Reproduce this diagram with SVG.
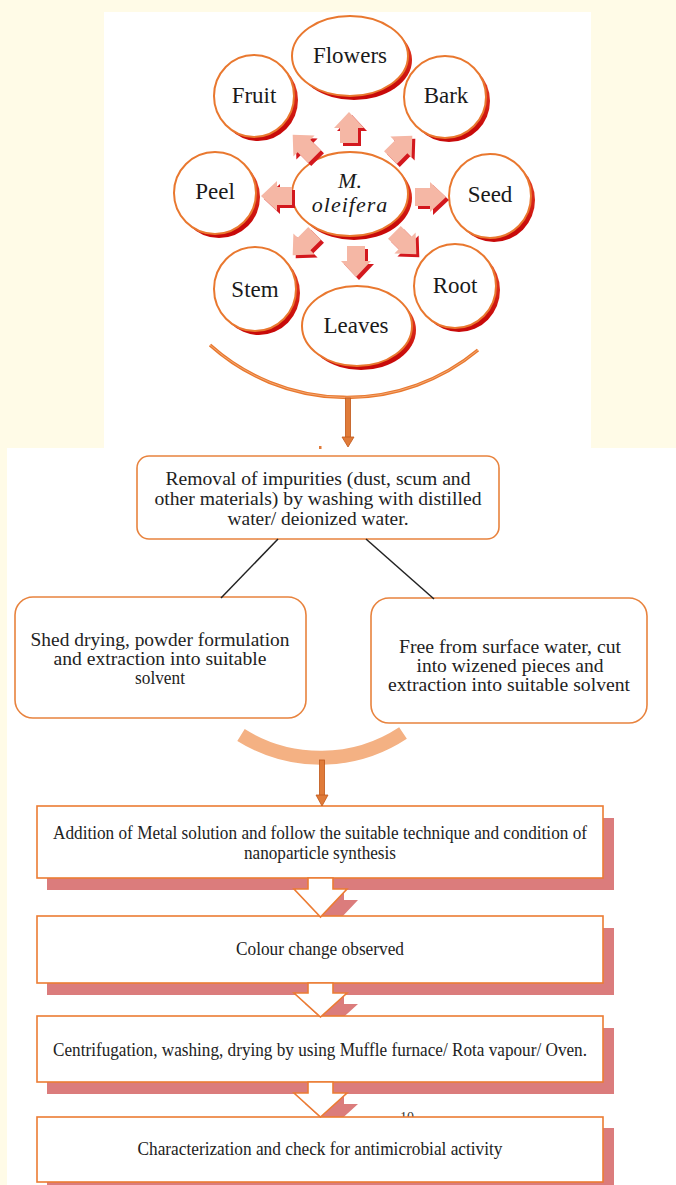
<svg xmlns="http://www.w3.org/2000/svg" xmlns:xlink="http://www.w3.org/1999/xlink" width="676" height="1185" viewBox="0 0 676 1185">
<defs>
<style>
.lbl{font-family:"Liberation Serif","Times New Roman",serif;font-size:23px;fill:#1a1a1a;text-anchor:middle}
.it{font-style:italic;font-size:22px}
.bt{font-family:"Liberation Serif","Times New Roman",serif;font-size:18.5px;fill:#222;text-anchor:middle}
.bt2{font-family:"Liberation Serif","Times New Roman",serif;font-size:18px;fill:#222;text-anchor:middle}
.circ{fill:#fff;stroke:#E9782F;stroke-width:2}
.csh{fill:url(#rg)}
.rbox{fill:#fff;stroke:#E8833E;stroke-width:1.6}
.sbox{fill:#fff;stroke:#EC7C33;stroke-width:1.6}
.bsh{fill:#DB7C7C}
.pa{fill:#F5B7A5}
.pas{fill:#D3181E}
.blk{stroke:#222;stroke-width:1.5;fill:none}
.flow{fill:#fff;stroke:#EC7C33;stroke-width:1.6;stroke-linejoin:miter}
</style>
<linearGradient id="rg" x1="0" y1="0" x2="0.3" y2="1">
<stop offset="0" stop-color="#F39A55"/>
<stop offset="0.55" stop-color="#E23A22"/>
<stop offset="1" stop-color="#C80A0A"/>
</linearGradient>
<polygon id="pa" points="0,-16 15,0 9,0 9,15 -9,15 -9,0 -15,0"/>
</defs>

<!-- background -->
<rect x="0" y="0" width="676" height="1185" fill="#FFFBE7"/>
<rect x="104" y="12" width="487" height="436" fill="#fff"/>
<rect x="7" y="448" width="669" height="737" fill="#fff"/>

<!-- shadows of block arrows (under boxes) -->
<g id="flow-arrow-shadows" class="bsh">
<polygon points="319,889 344,889 344,900 358,900 331.5,928 305,900 319,900"/>
<polygon points="319,994 344,994 344,1004 358,1004 331.5,1028 305,1004 319,1004"/>
<polygon points="319,1093 344,1093 344,1104 358,1104 331.5,1128 305,1104 319,1104"/>
</g>

<text x="407" y="1122" style="font-family:'Liberation Serif',serif;font-size:14px;fill:#333;text-anchor:middle">10</text>

<!-- circle nodes -->
<g id="n-flowers"><ellipse class="csh" cx="354" cy="60" rx="58" ry="40"/><ellipse class="circ" cx="350" cy="56" rx="58" ry="40"/><text class="lbl" x="350" y="63">Flowers</text></g>
<g id="n-fruit"><ellipse class="csh" cx="258" cy="100" rx="40" ry="41"/><ellipse class="circ" cx="254" cy="96" rx="40" ry="41"/><text class="lbl" x="254" y="103">Fruit</text></g>
<g id="n-bark"><ellipse class="csh" cx="449" cy="101" rx="41" ry="41"/><ellipse class="circ" cx="445" cy="97" rx="41" ry="41"/><text class="lbl" x="446" y="103">Bark</text></g>
<g id="n-peel"><ellipse class="csh" cx="219" cy="197" rx="41" ry="41"/><ellipse class="circ" cx="215" cy="193" rx="41" ry="41"/><text class="lbl" x="215" y="199">Peel</text></g>
<g id="n-seed"><ellipse class="csh" cx="494" cy="200" rx="41" ry="42"/><ellipse class="circ" cx="490" cy="196" rx="41" ry="42"/><text class="lbl" x="490" y="202">Seed</text></g>
<g id="n-center"><ellipse class="csh" cx="354" cy="198" rx="58" ry="42"/><ellipse class="circ" cx="350" cy="194" rx="58" ry="42"/><text class="lbl it" x="350" y="188">M.</text><text class="lbl it" x="350" y="212" letter-spacing="1">oleifera</text></g>
<g id="n-stem"><ellipse class="csh" cx="259" cy="293" rx="41" ry="42"/><ellipse class="circ" cx="255" cy="289" rx="41" ry="42"/><text class="lbl" x="255" y="297">Stem</text></g>
<g id="n-root"><ellipse class="csh" cx="459" cy="290" rx="41" ry="42"/><ellipse class="circ" cx="455" cy="286" rx="41" ry="42"/><text class="lbl" x="455" y="293">Root</text></g>
<g id="n-leaves"><ellipse class="csh" cx="361" cy="330" rx="55" ry="40"/><ellipse class="circ" cx="357" cy="326" rx="55" ry="40"/><text class="lbl" x="356" y="333">Leaves</text></g>

<!-- process nodes -->
<g id="n-removal">
<rect class="rbox" x="137" y="456" width="362" height="83" rx="12"/>
<text class="bt" x="318" y="485" textLength="305" lengthAdjust="spacingAndGlyphs">Removal of impurities (dust, scum and</text>
<text class="bt" x="318" y="505" textLength="327" lengthAdjust="spacingAndGlyphs">other materials) by washing with distilled</text>
<text class="bt" x="318" y="525" textLength="181" lengthAdjust="spacingAndGlyphs">water/ deionized water.</text>
</g>
<g id="n-shed">
<rect class="rbox" x="15" y="597" width="291" height="121" rx="18"/>
<text class="bt" x="160" y="646" textLength="259" lengthAdjust="spacingAndGlyphs">Shed drying, powder formulation</text>
<text class="bt" x="160" y="665" textLength="213" lengthAdjust="spacingAndGlyphs">and extraction into suitable</text>
<text class="bt" x="160" y="684" textLength="50" lengthAdjust="spacingAndGlyphs">solvent</text>
</g>
<g id="n-free">
<rect class="rbox" x="371" y="598" width="276" height="125" rx="18"/>
<text class="bt" x="510" y="653" textLength="222" lengthAdjust="spacingAndGlyphs">Free from surface water, cut</text>
<text class="bt" x="510" y="672" textLength="187" lengthAdjust="spacingAndGlyphs">into wizened pieces and</text>
<text class="bt" x="509" y="691" textLength="242" lengthAdjust="spacingAndGlyphs">extraction into suitable solvent</text>
</g>
<g id="n-addition">
<rect class="bsh" x="47" y="818" width="567" height="72"/>
<rect class="sbox" x="37" y="806" width="566" height="72"/>
<text class="bt2" x="320" y="839" textLength="534" lengthAdjust="spacingAndGlyphs">Addition of Metal solution and follow the suitable technique and condition of</text>
<text class="bt2" x="320" y="859" textLength="152" lengthAdjust="spacingAndGlyphs">nanoparticle synthesis</text>
</g>
<g id="n-colour">
<rect class="bsh" x="47" y="928" width="567" height="67"/>
<rect class="sbox" x="37" y="916" width="566" height="67"/>
<text class="bt2" x="320" y="955" textLength="168" lengthAdjust="spacingAndGlyphs">Colour change observed</text>
</g>
<g id="n-centrifugation">
<rect class="bsh" x="47" y="1028" width="567" height="66"/>
<rect class="sbox" x="37" y="1016" width="566" height="66"/>
<text class="bt2" x="320" y="1056" textLength="534" lengthAdjust="spacingAndGlyphs">Centrifugation, washing, drying by using Muffle furnace/ Rota vapour/ Oven.</text>
</g>
<g id="n-characterization">
<rect class="bsh" x="47" y="1128" width="567" height="65"/>
<rect class="sbox" x="37" y="1117" width="566" height="65"/>
<text class="bt2" x="320" y="1155" textLength="365" lengthAdjust="spacingAndGlyphs">Characterization and check for antimicrobial activity</text>
</g>

<!-- connectors -->
<g id="connectors">
<!-- pink block arrows from centre -->
<g class="pas">
<use xlink:href="#pa" href="#pa" transform="translate(352,131)"/>
<use xlink:href="#pa" href="#pa" transform="translate(307,149) rotate(-45)"/>
<use xlink:href="#pa" href="#pa" transform="translate(404,150) rotate(45)"/>
<use xlink:href="#pa" href="#pa" transform="translate(280,199) rotate(-90)"/>
<use xlink:href="#pa" href="#pa" transform="translate(433,200) rotate(90)"/>
<use xlink:href="#pa" href="#pa" transform="translate(307,247) rotate(-135)"/>
<use xlink:href="#pa" href="#pa" transform="translate(359,264) rotate(180)"/>
<use xlink:href="#pa" href="#pa" transform="translate(408,246) rotate(135)"/>
</g>
<g class="pa">
<use xlink:href="#pa" href="#pa" transform="translate(349,128)"/>
<use xlink:href="#pa" href="#pa" transform="translate(304,146) rotate(-45)"/>
<use xlink:href="#pa" href="#pa" transform="translate(401,147) rotate(45)"/>
<use xlink:href="#pa" href="#pa" transform="translate(277,196) rotate(-90)"/>
<use xlink:href="#pa" href="#pa" transform="translate(430,197) rotate(90)"/>
<use xlink:href="#pa" href="#pa" transform="translate(304,244) rotate(-135)"/>
<use xlink:href="#pa" href="#pa" transform="translate(356,261) rotate(180)"/>
<use xlink:href="#pa" href="#pa" transform="translate(405,243) rotate(135)"/>
</g>

<!-- top gathering arc and arrow -->
<path d="M210,345 A205 205 0 0 0 478,350" fill="none" stroke="#E8782E" stroke-width="3.5"/>
<path d="M210,345 A205 205 0 0 0 478,350" fill="none" stroke="#F6B487" stroke-width="0.8"/>
<rect x="345.5" y="398" width="5" height="40" fill="#E07B39" stroke="#C0581A" stroke-width="0.8"/>
<polygon points="342,437 354,437 348,447" fill="#E07B39" stroke="#C0581A" stroke-width="0.8"/>
<rect x="319" y="446" width="2.5" height="3" fill="#E07B39"/>

<!-- branch lines -->
<line class="blk" x1="278" y1="539" x2="221" y2="598"/>
<line class="blk" x1="366" y1="539" x2="434" y2="599"/>

<!-- lower gathering arc and arrow -->
<path d="M241,735 A150 150 0 0 0 403,733" fill="none" stroke="#F4B183" stroke-width="14"/>
<rect x="319.5" y="760" width="5" height="36" fill="#E07B39" stroke="#C0581A" stroke-width="0.8"/>
<polygon points="316,795 328,795 322,806" fill="#E07B39" stroke="#C0581A" stroke-width="0.8"/>

<!-- white block flow arrows -->
<polygon class="flow" points="308,878 333,878 333,889 347,889 320.5,917 294,889 308,889"/>
<polygon class="flow" points="308,983 333,983 333,993 347,993 320.5,1017 294,993 308,993"/>
<polygon class="flow" points="308,1082 333,1082 333,1093 347,1093 320.5,1117 294,1093 308,1093"/>
</g>
</svg>
